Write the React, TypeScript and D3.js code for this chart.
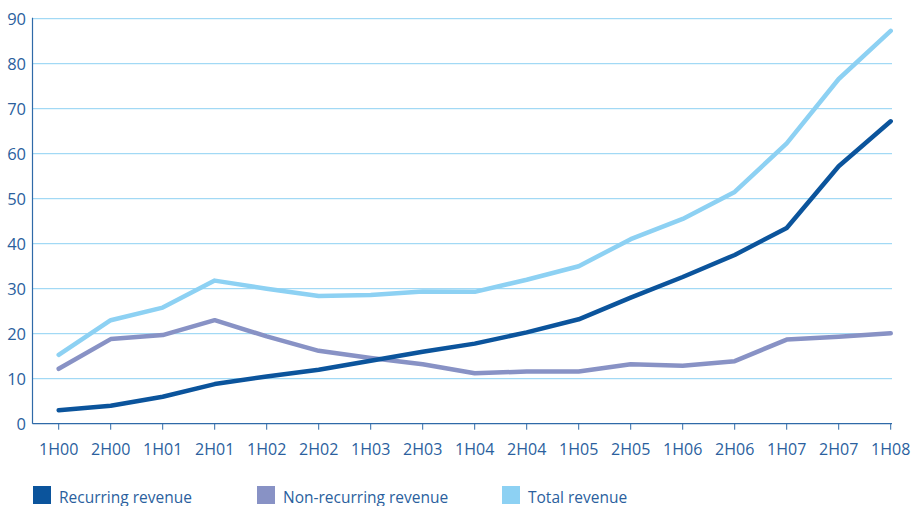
import React from 'react';
import * as d3 from 'd3';

const periods = ['1H00', '2H00', '1H01', '2H01', '1H02', '2H02', '1H03', '2H03', '1H04', '2H04', '1H05', '2H05', '1H06', '2H06', '1H07', '2H07', '1H08'];
const recurring = [3, 4, 6, 8.8, 10.5, 12, 14, 16, 17.8, 20.3, 23.2, 28, 32.6, 37.5, 43.5, 57.2, 67.2];
const nonRecurring = [12.2, 18.8, 19.7, 23, 19.4, 16.2, 14.6, 13.2, 11.2, 11.6, 11.6, 13.2, 12.9, 13.9, 18.7, 19.3, 20.1];
const total = [15.3, 23, 25.8, 31.8, 30, 28.4, 28.6, 29.4, 29.3, 32, 35, 41, 45.5, 51.5, 62.3, 76.6, 87.3];
const yTicks = [0, 10, 20, 30, 40, 50, 60, 70, 80, 90];

const series = [
  { name: 'Total revenue', values: total, color: '#8dd1f3' },
  { name: 'Non-recurring revenue', values: nonRecurring, color: '#8892c5' },
  { name: 'Recurring revenue', values: recurring, color: '#0b549c' },
];
const legendItems = [
  { name: 'Recurring revenue', color: '#0b549c', x: 33 },
  { name: 'Non-recurring revenue', color: '#8892c5', x: 257 },
  { name: 'Total revenue', color: '#8dd1f3', x: 502 },
];

const W = 917;
const H = 506;
const axisX = 32.5;
const gridRight = 892;
const textColor = '#2b5f9e';
const font = '"Open Sans", sans-serif';

export default function App() {
  const x = d3.scalePoint<string>().domain(periods).range([58.7, 890.7]);
  const y = d3.scaleLinear().domain([0, 90]).range([423.7, 18.7]);

  const line = d3.line<number>()
    .x((_, i) => x(periods[i]) as number)
    .y(d => y(d));

  return (
    <svg width={W} height={H} style={{ position: 'absolute', left: 0, top: 0, fontFamily: font }}>
      {/* grid */}
      {yTicks.filter(t => t > 0).map(t => (
        <line key={t} x1={axisX} x2={gridRight} y1={y(t)} y2={y(t)} stroke="#8dd1f3" strokeWidth={1} />
      ))}
      {/* y axis labels */}
      {yTicks.map(t => (
        <text key={t} x={26} y={y(t) + 6.5} textAnchor="end" fontSize={16.5} fill={textColor}>{t}</text>
      ))}
      {/* axes */}
      <line x1={axisX} x2={axisX} y1={y(90) - 1} y2={y(0)} stroke="#2f6aa8" strokeWidth={1.2} />
      <line x1={axisX} x2={gridRight} y1={y(0)} y2={y(0)} stroke="#2f6aa8" strokeWidth={1.2} />
      {periods.map(p => (
        <g key={p}>
          <line x1={x(p)} x2={x(p)} y1={y(0)} y2={y(0) + 6} stroke="#2f6aa8" strokeWidth={1} />
          <text x={x(p)} y={455} textAnchor="middle" fontSize={16} fill={textColor}>{p}</text>
        </g>
      ))}
      {/* lines */}
      {series.map(s => (
        <path key={s.name} d={line(s.values) || ''} fill="none" stroke={s.color} strokeWidth={4.5}
          strokeLinecap="round" strokeLinejoin="round" />
      ))}
      {/* legend */}
      {legendItems.map(l => (
        <g key={l.name}>
          <rect x={l.x} y={486} width={18} height={18} fill={l.color} />
          <text x={l.x + 26} y={502.5} fontSize={15.5} fill={textColor}>{l.name}</text>
        </g>
      ))}
    </svg>
  );
}
